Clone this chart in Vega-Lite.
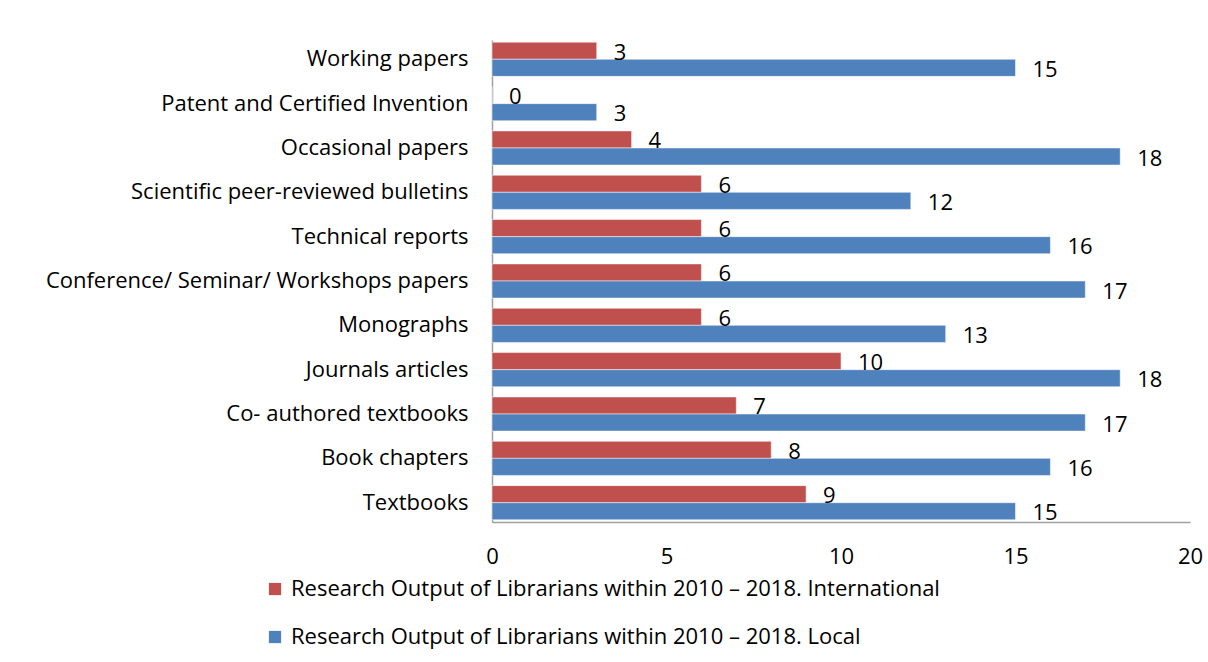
{
  "$schema": "https://vega.github.io/schema/vega-lite/v6.json",
  "width": 698,
  "height": 482,
  "autosize": {"type": "none"},
  "padding": {"left": 492, "top": 40, "right": 18, "bottom": 140},
  "background": "white",
  "config": {
    "font": "Open Sans",
    "view": {"stroke": null}
  },
  "data": {
    "values": [
      {"category": "Working papers", "series": "Research Output of Librarians within 2010 – 2018. International", "value": 3},
      {"category": "Working papers", "series": "Research Output of Librarians within 2010 – 2018. Local", "value": 15},
      {"category": "Patent and Certified Invention", "series": "Research Output of Librarians within 2010 – 2018. International", "value": 0},
      {"category": "Patent and Certified Invention", "series": "Research Output of Librarians within 2010 – 2018. Local", "value": 3},
      {"category": "Occasional papers", "series": "Research Output of Librarians within 2010 – 2018. International", "value": 4},
      {"category": "Occasional papers", "series": "Research Output of Librarians within 2010 – 2018. Local", "value": 18},
      {"category": "Scientific peer-reviewed bulletins", "series": "Research Output of Librarians within 2010 – 2018. International", "value": 6},
      {"category": "Scientific peer-reviewed bulletins", "series": "Research Output of Librarians within 2010 – 2018. Local", "value": 12},
      {"category": "Technical reports", "series": "Research Output of Librarians within 2010 – 2018. International", "value": 6},
      {"category": "Technical reports", "series": "Research Output of Librarians within 2010 – 2018. Local", "value": 16},
      {"category": "Conference/ Seminar/ Workshops papers", "series": "Research Output of Librarians within 2010 – 2018. International", "value": 6},
      {"category": "Conference/ Seminar/ Workshops papers", "series": "Research Output of Librarians within 2010 – 2018. Local", "value": 17},
      {"category": "Monographs", "series": "Research Output of Librarians within 2010 – 2018. International", "value": 6},
      {"category": "Monographs", "series": "Research Output of Librarians within 2010 – 2018. Local", "value": 13},
      {"category": "Journals articles", "series": "Research Output of Librarians within 2010 – 2018. International", "value": 10},
      {"category": "Journals articles", "series": "Research Output of Librarians within 2010 – 2018. Local", "value": 18},
      {"category": "Co- authored textbooks", "series": "Research Output of Librarians within 2010 – 2018. International", "value": 7},
      {"category": "Co- authored textbooks", "series": "Research Output of Librarians within 2010 – 2018. Local", "value": 17},
      {"category": "Book chapters", "series": "Research Output of Librarians within 2010 – 2018. International", "value": 8},
      {"category": "Book chapters", "series": "Research Output of Librarians within 2010 – 2018. Local", "value": 16},
      {"category": "Textbooks", "series": "Research Output of Librarians within 2010 – 2018. International", "value": 9},
      {"category": "Textbooks", "series": "Research Output of Librarians within 2010 – 2018. Local", "value": 15}
    ]
  },
  "encoding": {
    "y": {
      "field": "category",
      "type": "nominal",
      "sort": null,
      "scale": {"paddingInner": 0.23, "paddingOuter": 0.05},
      "axis": {
        "title": null,
        "domainColor": "#A0A0A0",
        "domainWidth": 1.5,
        "ticks": false,
        "labelFontSize": 22,
        "labelColor": "#000000",
        "labelPadding": 24,
        "labelLimit": 600
      }
    },
    "yOffset": {
      "field": "series",
      "type": "nominal",
      "sort": ["Research Output of Librarians within 2010 – 2018. International", "Research Output of Librarians within 2010 – 2018. Local"]
    },
    "x": {
      "field": "value",
      "type": "quantitative",
      "scale": {"domain": [0, 20], "nice": false},
      "axis": {
        "title": null,
        "values": [0, 5, 10, 15, 20],
        "grid": false,
        "ticks": false,
        "domainColor": "#A0A0A0",
        "domainWidth": 1.5,
        "labelFontSize": 22,
        "labelColor": "#000000",
        "labelPadding": 24,
        "labelFlush": false
      }
    }
  },
  "layer": [
    {
      "mark": {"type": "bar", "stroke": "white", "strokeWidth": 0.5},
      "encoding": {
        "color": {
          "field": "series",
          "type": "nominal",
          "scale": {
            "domain": ["Research Output of Librarians within 2010 – 2018. International", "Research Output of Librarians within 2010 – 2018. Local"],
            "range": ["#C0504D", "#4F81BD"]
          },
          "legend": {
            "title": null,
            "orient": "none",
            "legendX": -228,
            "legendY": 538,
            "direction": "vertical",
            "symbolType": "square",
            "symbolSize": 150,
            "symbolStrokeWidth": 0,
            "labelFontSize": 22,
            "labelColor": "#000000",
            "labelLimit": 800,
            "labelOffset": 5,
            "rowPadding": 26
          }
        }
      }
    },
    {
      "mark": {"type": "text", "align": "left", "baseline": "middle", "dx": 17, "dy": 2, "fontSize": 22, "color": "#000000"},
      "encoding": {
        "text": {"field": "value", "type": "quantitative"}
      }
    }
  ]
}
